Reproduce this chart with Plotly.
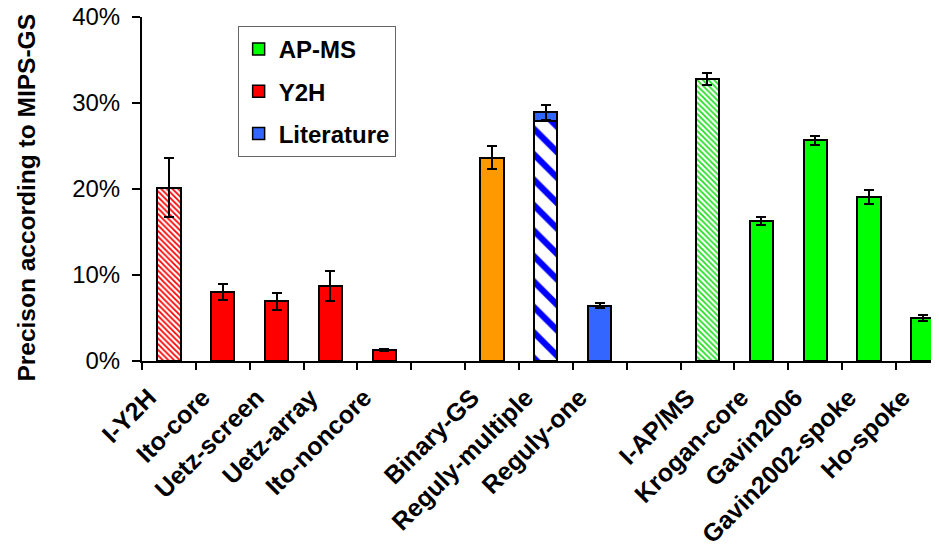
import plotly.graph_objects as go

# ---- data ----
categories = ["I-Y2H", "Ito-core", "Uetz-screen", "Uetz-array", "Ito-noncore", "",
              "Binary-GS", "Reguly-multiple", "Reguly-one", "",
              "I-AP/MS", "Krogan-core", "Gavin2006", "Gavin2002-spoke", "Ho-spoke"]
precision = [20.15, 8.02, 6.94, 8.76, 1.28,
             23.64, 27.95, 6.4,
             32.8, 16.28, 25.66, 19.07, 4.97]
error = [3.4, 0.93, 1.0, 1.76, 0.15,
         1.37, None, 0.29,
         0.72, 0.48, 0.56, 0.77, 0.35]
fill_colors = ["#ff0000", "#ff0000", "#ff0000", "#ff0000", "#ff0000",
               "#ff9900", "#0000ff", "#3366ff",
               "#22dd22", "#00ff00", "#00ff00", "#00ff00", "#00ff00"]
pattern_shapes = ["\\", "", "", "", "",
                  "", "\\", "",
                  "\\", "", "", "", ""]
pattern_size = [4, 0, 0, 0, 0, 0, 18, 0, 4, 0, 0, 0, 0]
pattern_solidity = [0.45, 0, 0, 0, 0, 0, 0.35, 0, 0.45, 0, 0, 0, 0]

reguly_multiple_total = 28.9
reguly_multiple_error = 0.83

legend_names = ["AP-MS", "Y2H", "Literature"]
legend_colors = ["#00ff00", "#ff0000", "#3366ff"]

y_ticks = [0, 10, 20, 30, 40]
y_title = "Precison according to MIPS-GS"

# ---- derived positions ----
labels = [c for c in categories if c]
x_pos = [i for i, c in enumerate(categories) if c]
reg_idx = labels.index("Reguly-multiple")

FONT = "Liberation Sans, Arial, sans-serif"
ERR = dict(type="data", color="black", thickness=2, width=5)

fig = go.Figure()
for i, lab in enumerate(labels):
    marker = dict(color=fill_colors[i], line=dict(color="black", width=2))
    if pattern_shapes[i]:
        marker = dict(color="white", line=dict(color="black", width=2),
                      pattern=dict(shape=pattern_shapes[i], fgcolor=fill_colors[i],
                                   bgcolor="white", size=pattern_size[i],
                                   solidity=pattern_solidity[i], fillmode="replace"))
    err = None
    if error[i] is not None:
        err = dict(ERR, array=[error[i]])
    fig.add_trace(go.Bar(x=[x_pos[i]], y=[precision[i]], width=0.43, showlegend=False,
                         marker=marker, error_y=err, name=lab))

fig.add_trace(go.Bar(
    x=[x_pos[reg_idx]], y=[reguly_multiple_total - precision[reg_idx]], width=0.43,
    showlegend=False,
    marker=dict(color="#3366ff", line=dict(color="black", width=2)),
    error_y=dict(ERR, array=[reguly_multiple_error]),
))
for n, c in zip(legend_names, legend_colors):
    fig.add_trace(go.Bar(x=[None], y=[None], name=n, legendgroup=n,
                         marker=dict(color=c, line=dict(color="black", width=1.5))))

fig.add_annotation(text=y_title, textangle=-90, xref="paper", yref="paper",
                   x=-0.1443, y=0.475, xanchor="center", yanchor="middle",
                   showarrow=False, font=dict(size=24.5, weight="bold", family=FONT))

fig.update_layout(
    width=931, height=544, barmode="stack",
    margin=dict(l=134, r=0, t=9, b=191),
    plot_bgcolor="white", paper_bgcolor="white",
    font=dict(family=FONT, color="black"),
    legend=dict(x=0.12, y=0.974, xanchor="left", yanchor="top",
                bordercolor="#666666", borderwidth=1, bgcolor="white",
                font=dict(size=24, weight="bold", family=FONT),
                tracegroupgap=8, itemwidth=30),
    xaxis=dict(range=[-0.5, 14.3], tickmode="array", tickvals=x_pos, ticktext=labels,
               ticks="", tickangle=-45, tickfont=dict(size=25, weight="bold", family=FONT),
               ticklabelstandoff=10, ticklabelshift=-20, automargin=False,
               ticklabeloverflow="allow",
               showline=True, linecolor="black", linewidth=2, showgrid=False, zeroline=False,
               minor=dict(tick0=-0.5, dtick=1, ticks="outside", ticklen=7, tickwidth=1.5,
                          tickcolor="black", showgrid=False)),
    yaxis=dict(range=[0, 40], tickmode="array", tickvals=y_ticks,
               ticktext=[f"{v}%" for v in y_ticks],
               ticks="outside", ticklen=8, tickwidth=1.5, tickcolor="black",
               ticklabelstandoff=7, automargin=False, ticklabeloverflow="allow",
               tickfont=dict(size=24, family=FONT),
               showline=True, linecolor="black", linewidth=2, showgrid=False, zeroline=False),
)

fig.write_html("out.html")
